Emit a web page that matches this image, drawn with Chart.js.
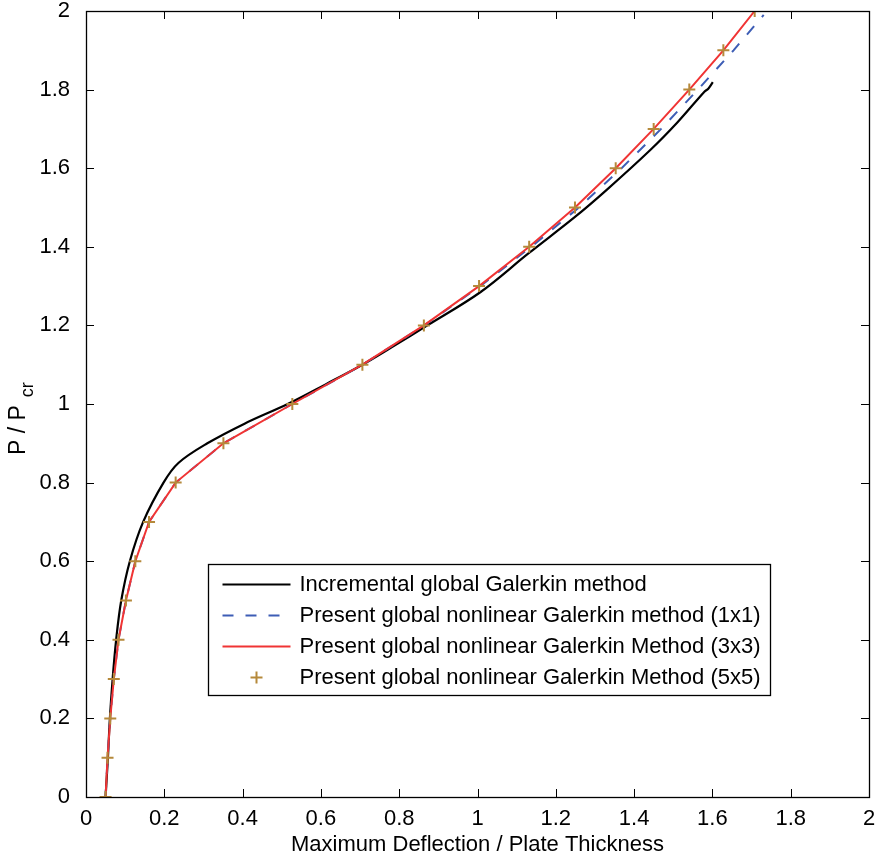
<!DOCTYPE html>
<html>
<head>
<meta charset="utf-8">
<script src="https://cdn.jsdelivr.net/npm/chart.js@4.4.1/dist/chart.umd.min.js"></script>
<style>
html,body{margin:0;padding:0;background:#fff;}
#wrap{width:877px;height:858px;position:relative;}
</style>
</head>
<body>
<div id="wrap"><canvas id="c" width="877" height="858"></canvas></div>
<script>
// ---------------- data ----------------
const loadLevels = [0,0.1,0.2,0.3,0.4,0.5,0.6,0.7,0.8,0.9,1.0,1.1,1.2,1.3,1.4,1.5,1.6,1.7,1.8,1.9,2.0];

const xIncremental = [0.050,0.053,0.056,0.061,0.068,0.077,0.090,0.112,0.146,0.198,0.236,0.310,0.405,0.515,0.612,0.706,0.790,0.872,1.008,1.130,1.249,1.330,1.440,1.511,1.579,1.590,1.601];
const yIncremental = [0,0.05,0.1,0.2,0.3,0.4,0.5,0.6,0.7,0.8,0.85,0.9,0.95,1.0,1.05,1.1,1.15,1.2,1.285,1.383,1.476,1.545,1.645,1.717,1.794,1.803,1.819];

const xGlobal1x1 = [0.050,0.055,0.062,0.071,0.083,0.102,0.126,0.161,0.229,0.351,0.527,0.706,0.864,1.007,1.137,1.259,1.368,1.469,1.563,1.654,1.731];
const yGlobal1x1 = [0,0.1,0.2,0.3,0.4,0.5,0.6,0.7,0.8,0.9,1.0,1.1,1.2,1.3,1.4,1.5,1.6,1.7,1.8,1.9,1.99];

const xGlobal3x3 = [0.050,0.055,0.062,0.071,0.083,0.102,0.126,0.161,0.229,0.351,0.527,0.706,0.863,1.004,1.132,1.249,1.353,1.450,1.541,1.628,1.708];
const xGlobal5x5 = [0.050,0.055,0.062,0.071,0.083,0.102,0.126,0.161,0.229,0.351,0.527,0.706,0.863,1.004,1.132,1.249,1.353,1.450,1.541,1.628,1.708];

const seriesLabels = [
  'Incremental global Galerkin method',
  'Present global nonlinear Galerkin method (1x1)',
  'Present global nonlinear Galerkin Method (3x3)',
  'Present global nonlinear Galerkin Method (5x5)'
];
const xTickLabels = ['0','0.2','0.4','0.6','0.8','1','1.2','1.4','1.6','1.8','2'];
const yTickLabels = ['0','0.2','0.4','0.6','0.8','1','1.2','1.4','1.6','1.8','2'];
const xTitle = 'Maximum Deflection / Plate Thickness';
const yTitleMain = 'P / P';
const yTitleSub = 'cr';

// ---------------- helpers ----------------
const FONT = '"Liberation Sans", Arial, Helvetica, sans-serif';
const pts = (xs, ys) => xs.map((x, i) => ({x: x, y: ys[i]}));

const ds = [
  {label: seriesLabels[0], data: pts(xIncremental, yIncremental), showLine: true,
   borderColor: '#000000', borderWidth: 2.2, pointRadius: 0, tension: 0.35, order: 3},
  {label: seriesLabels[1], data: pts(xGlobal1x1, yGlobal1x1), showLine: true,
   borderColor: '#3d5db5', borderWidth: 2, borderDash: [11, 12], pointRadius: 0, tension: 0, order: 2},
  {label: seriesLabels[2], data: pts(xGlobal3x3, loadLevels), showLine: true,
   borderColor: '#f03434', borderWidth: 2, pointRadius: 0, tension: 0, order: 1},
  {label: seriesLabels[3], data: pts(xGlobal5x5, loadLevels), showLine: false,
   pointStyle: 'cross', pointRadius: 6, pointBorderWidth: 2, pointBorderColor: '#b5893b',
   pointBackgroundColor: '#b5893b', borderColor: '#b5893b', order: 0}
];

const TICK_LEN = 8;

const framePlugin = {
  id: 'frame',
  afterDraw(chart) {
    const ctx = chart.ctx, a = chart.chartArea;
    const xs = chart.scales.x, ys = chart.scales.y;
    ctx.save();
    ctx.strokeStyle = '#000';
    ctx.lineWidth = 1;
    ctx.beginPath();
    xs.ticks.forEach(t => {
      const p = Math.round(xs.getPixelForValue(t.value)) + 0.5;
      ctx.moveTo(p, a.bottom); ctx.lineTo(p, a.bottom - TICK_LEN);
      ctx.moveTo(p, a.top); ctx.lineTo(p, a.top + TICK_LEN);
    });
    ys.ticks.forEach(t => {
      const p = Math.round(ys.getPixelForValue(t.value)) + 0.5;
      ctx.moveTo(a.left, p); ctx.lineTo(a.left + TICK_LEN, p);
      ctx.moveTo(a.right, p); ctx.lineTo(a.right - TICK_LEN, p);
    });
    ctx.stroke();
    ctx.lineWidth = 1.3;
    ctx.strokeRect(Math.round(a.left) + 0.5, Math.round(a.top) + 0.5,
                   Math.round(a.right - a.left), Math.round(a.bottom - a.top));
    // y axis title with subscript
    ctx.fillStyle = '#000';
    ctx.translate(25, 455);
    ctx.rotate(-Math.PI / 2);
    ctx.textAlign = 'left';
    ctx.textBaseline = 'alphabetic';
    ctx.font = '23px ' + FONT;
    ctx.fillText(yTitleMain, 0, 0);
    const w = ctx.measureText(yTitleMain).width;
    ctx.font = '18px ' + FONT;
    ctx.fillText(yTitleSub, w + 8, 8);
    ctx.restore();
  }
};

const legendPlugin = {
  id: 'boxLegend',
  afterDraw(chart) {
    const ctx = chart.ctx;
    const L = 208.5, T = 564.5, W = 562, H = 131;
    ctx.save();
    ctx.fillStyle = '#fff';
    ctx.fillRect(L, T, W, H);
    ctx.strokeStyle = '#000';
    ctx.lineWidth = 1.3;
    ctx.strokeRect(L, T, W, H);
    chart.data.datasets.forEach((d, i) => {
      const cy = Math.round(T + 19.5 + i * 31) + 0.5;
      ctx.save();
      if (d.showLine) {
        ctx.strokeStyle = d.borderColor;
        ctx.lineWidth = d.borderWidth;
        ctx.setLineDash(d.borderDash || []);
        ctx.beginPath();
        ctx.moveTo(L + 14, cy); ctx.lineTo(L + 82, cy);
        ctx.stroke();
      } else {
        ctx.strokeStyle = d.pointBorderColor;
        ctx.lineWidth = d.pointBorderWidth;
        const cx = L + 48, r = d.pointRadius;
        ctx.beginPath();
        ctx.moveTo(cx - r, cy); ctx.lineTo(cx + r, cy);
        ctx.moveTo(cx, cy - r); ctx.lineTo(cx, cy + r);
        ctx.stroke();
      }
      ctx.restore();
      ctx.fillStyle = '#000';
      ctx.font = '22px ' + FONT;
      ctx.textAlign = 'left';
      ctx.textBaseline = 'middle';
      ctx.fillText(d.label, L + 91, cy);
    });
    ctx.restore();
  }
};

new Chart(document.getElementById('c'), {
  type: 'scatter',
  data: {datasets: ds},
  options: {
    responsive: false,
    animation: false,
    devicePixelRatio: 1,
    layout: {padding: {left: 0, right: 5, top: 11, bottom: 0}},
    plugins: {legend: {display: false}, tooltip: {enabled: false}},
    scales: {
      x: {
        type: 'linear', min: 0, max: 2,
        grid: {display: false}, border: {display: false},
        ticks: {stepSize: 0.2, padding: 1, color: '#000', font: {size: 22, family: FONT},
                maxRotation: 0, autoSkip: false,
                callback: v => xTickLabels[Math.round(v / 0.2)]},
        title: {display: true, text: xTitle, color: '#000', font: {size: 22, family: FONT},
                padding: {top: 0, bottom: 0}},
        afterFit: s => { s.height = 61; s.paddingLeft = 0; s.paddingRight = 0; }
      },
      y: {
        type: 'linear', min: 0, max: 2,
        grid: {display: false}, border: {display: false},
        ticks: {stepSize: 0.2, padding: 8, color: '#000', font: {size: 22, family: FONT},
                autoSkip: false,
                callback: v => yTickLabels[Math.round(v / 0.2)]},
        afterFit: s => { s.width = 86; s.paddingTop = 0; s.paddingBottom = 0; }
      }
    }
  },
  plugins: [framePlugin, legendPlugin]
});
</script>
</body>
</html>
